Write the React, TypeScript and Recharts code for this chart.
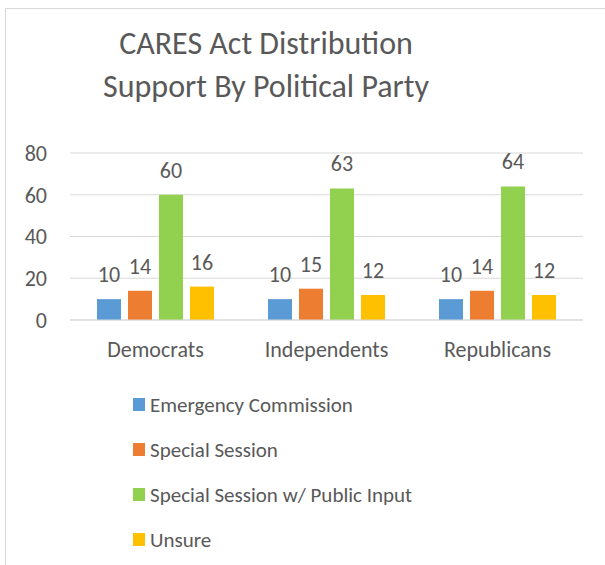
import React from "react";
import { BarChart, Bar, XAxis, YAxis, CartesianGrid, LabelList, Legend } from "recharts";

const categories = ["Democrats", "Independents", "Republicans"];
const emergencyCommission = [10, 10, 10];
const specialSession = [14, 15, 14];
const specialSessionPublic = [60, 63, 64];
const unsure = [16, 12, 12];
const yTicks = [0, 20, 40, 60, 80];

const seriesDefs = [
  { key: "ec", name: "Emergency Commission", color: "#5B9BD5", values: emergencyCommission },
  { key: "ss", name: "Special Session", color: "#ED7D31", values: specialSession },
  { key: "ssp", name: "Special Session w/ Public Input", color: "#92D050", values: specialSessionPublic },
  { key: "un", name: "Unsure", color: "#FFC000", values: unsure },
];

const data = categories.map((c, i) => {
  const row: any = { category: c };
  seriesDefs.forEach((s) => (row[s.key] = s.values[i]));
  return row;
});

const FONT = "Carlito, Lato, 'Liberation Sans', sans-serif";
const TEXT = "#595959";

const LegendContent = () => (
  <div style={{ fontFamily: FONT, fontSize: 21, color: TEXT }}>
    {seriesDefs.map((s) => (
      <div key={s.key} style={{ height: 45, display: "flex", alignItems: "center" }}>
        <span style={{ width: 12, height: 13, background: s.color, display: "inline-block", marginRight: 5 }} />
        <span>{s.name}</span>
      </div>
    ))}
  </div>
);

export default function App() {
  return (
    <div style={{ position: "absolute", left: 0, top: 0, width: 605, height: 565, overflow: "hidden", background: "#fff" }}>
      <div style={{ position: "absolute", left: 5, top: 8, width: 620, height: 600, borderLeft: "1px solid #D9D9D9", borderTop: "1px solid #D9D9D9" }} />
      <div
        style={{
          position: "absolute",
          left: 0,
          top: 22,
          width: 532,
          textAlign: "center",
          fontFamily: FONT,
          fontSize: 32,
          lineHeight: "43px",
          color: TEXT,
        }}
      >
        <div>CARES Act Distribution</div>
        <div>Support By Political Party</div>
      </div>
      <div style={{ position: "absolute", left: 0, top: 0 }}>
        <BarChart
          width={605}
          height={565}
          data={data}
          margin={{ top: 153, right: 22, bottom: 30, left: 0 }}
          barCategoryGap={27}
          barGap={7}
        >
          <CartesianGrid vertical={false} stroke="#D9D9D9" strokeWidth={1} />
          <XAxis
            dataKey="category"
            axisLine={{ stroke: "#D9D9D9" }}
            tickLine={false}
            height={35}
            tickMargin={15}
            tick={{ fill: TEXT, fontSize: 22, fontFamily: FONT }}
          />
          <YAxis
            domain={[0, 80]}
            ticks={yTicks}
            width={70}
            axisLine={false}
            tickLine={false}
            tickMargin={17}
            tick={{ fill: TEXT, fontSize: 22, fontFamily: FONT }}
          />
          <Legend
            verticalAlign="bottom"
            align="left"
            layout="horizontal"
            content={<LegendContent />}
            wrapperStyle={{ left: 133, top: 382, height: 180, width: 420 }}
          />
          {seriesDefs.map((s) => (
            <Bar key={s.key} dataKey={s.key} name={s.name} fill={s.color} isAnimationActive={false}>
              <LabelList
                dataKey={s.key}
                position="top"
                offset={17}
                fill={TEXT}
                fontSize={22}
                fontFamily={FONT}
              />
            </Bar>
          ))}
        </BarChart>
      </div>
    </div>
  );
}
